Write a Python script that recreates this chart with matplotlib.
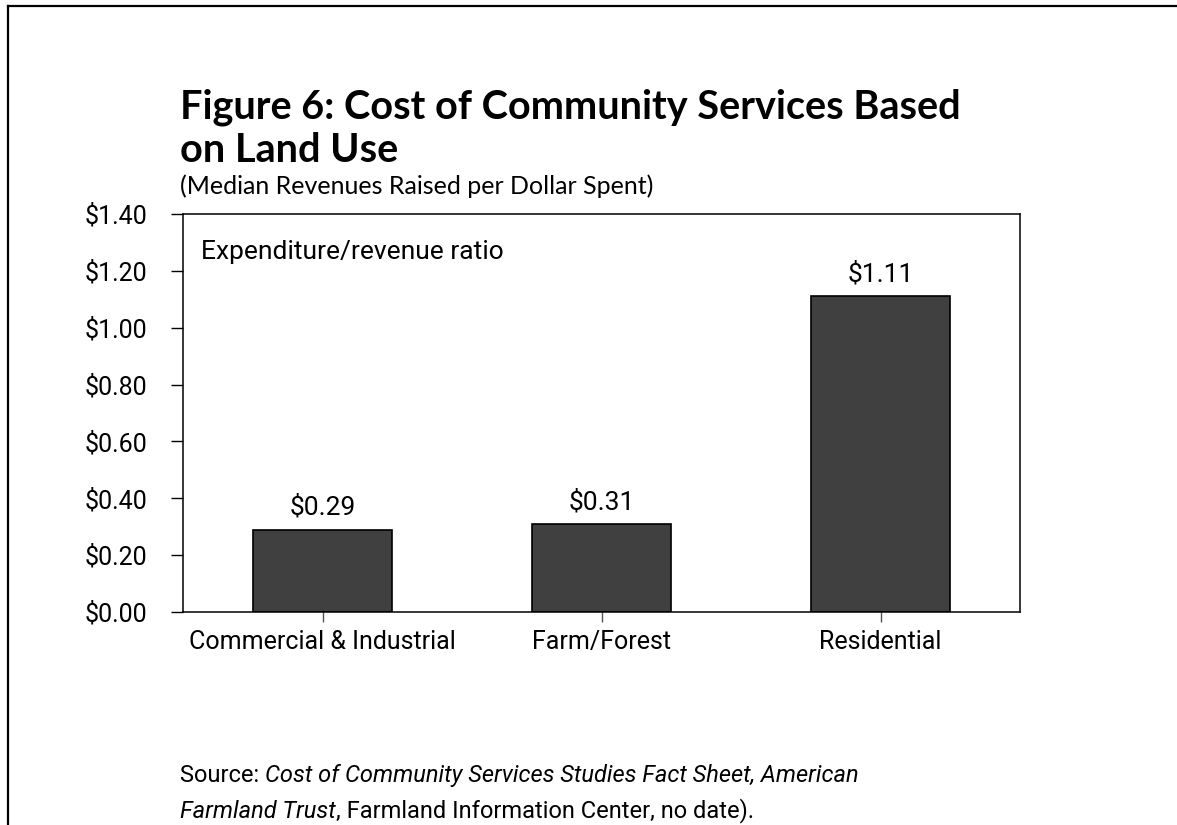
import matplotlib
matplotlib.use("Agg")
import matplotlib.pyplot as plt
from matplotlib.lines import Line2D

categories = ["Commercial & Industrial", "Farm/Forest", "Residential"]
ratios = [0.29, 0.31, 1.11]
value_labels = ["$0.29", "$0.31", "$1.11"]
yticks = [0.0, 0.2, 0.4, 0.6, 0.8, 1.0, 1.2, 1.4]
ytick_labels = ["$0.00", "$0.20", "$0.40", "$0.60", "$0.80", "$1.00", "$1.20", "$1.40"]

cond = ["Liberation Sans Narrow", "Roboto", "DejaVu Sans"]
head = ["Lato", "DejaVu Sans"]

fig = plt.figure(figsize=(11.77, 8.25), dpi=100)
fig.patch.set_facecolor("white")

# frame lines on the left and top edge
fig.add_artist(Line2D([8 / 1177, 8 / 1177], [0, 1 - 6 / 825], color="black", lw=1.6))
fig.add_artist(Line2D([8 / 1177, 1], [1 - 6 / 825, 1 - 6 / 825], color="black", lw=1.6))

ax = fig.add_axes([183 / 1177, 1 - 612 / 825, 837 / 1177, 398 / 825])
x = range(len(categories))
ax.bar(x, ratios, width=0.5, color="#404040", edgecolor="black", linewidth=1.2)
ax.set_xlim(-0.5, 2.5)
ax.set_ylim(0, 1.4)

for xi, v, lab in zip(x, ratios, value_labels):
    ax.annotate(lab, (xi, v), xytext=(0, 7), textcoords="offset points",
                ha="center", va="bottom", family=cond, fontsize=19)

ax.set_yticks(yticks)
ax.set_yticklabels(ytick_labels, family=cond, fontsize=18)
ax.set_xticks(list(x))
ax.set_xticklabels(categories, family=cond, fontsize=18)
ax.tick_params(axis="y", direction="out", length=9, width=1, pad=17)
ax.tick_params(axis="x", direction="out", length=7, width=1, color="#555555", pad=6)
for s in ax.spines.values():
    s.set_linewidth(1.1)
    s.set_color("black")

ax.text(0.022, 0.905, "Expenditure/revenue ratio", transform=ax.transAxes,
        ha="left", va="center", family=cond, fontsize=19)

# headings
fig.text(180 / 1177, 1 - 118 / 825, "Figure 6: Cost of Community Services Based",
         family=head, weight="bold", fontsize=28.5, va="baseline")
fig.text(180 / 1177, 1 - 162 / 825, "on Land Use",
         family=head, weight="bold", fontsize=28.5, va="baseline")
fig.text(180 / 1177, 1 - 194 / 825, "(Median Revenues Raised per Dollar Spent)",
         family=head, fontsize=18, va="baseline")

# source note, regular and italic pieces chained together
t1 = fig.text(180 / 1177, 1 - 782 / 825, "Source: ", family=cond, fontsize=17, va="baseline")
ax.annotate("Cost of Community Services Studies Fact Sheet, American",
            xy=(1, 0), xycoords=t1, va="bottom", ha="left",
            family=cond, style="italic", fontsize=17)
t2 = fig.text(180 / 1177, 1 - 818 / 825, "Farmland Trust", family=cond,
              style="italic", fontsize=17, va="baseline")
ax.annotate(", Farmland Information Center, no date).", xy=(1, 0), xycoords=t2,
            va="bottom", ha="left", family=cond, fontsize=17)

fig.savefig("out.png", dpi=100, facecolor="white")
